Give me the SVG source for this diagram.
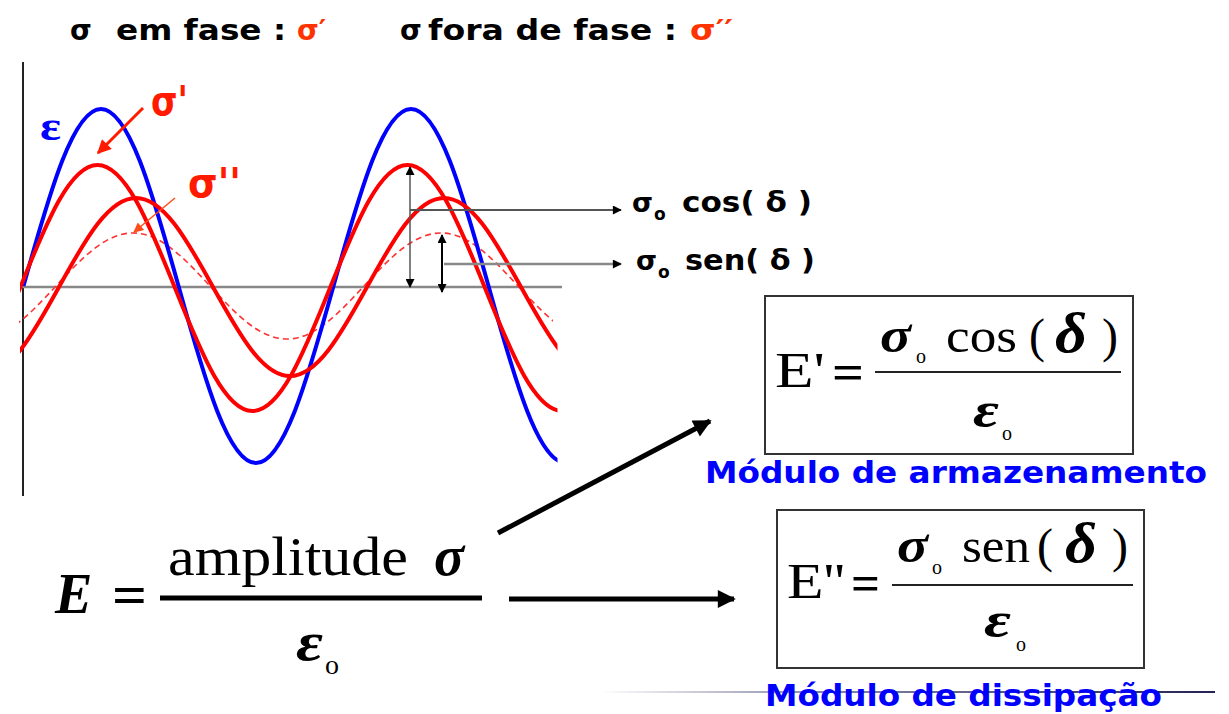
<svg xmlns="http://www.w3.org/2000/svg" width="1229" height="714" viewBox="0 0 1229 714">
<style>
.sans{font-family:"DejaVu Sans","Liberation Sans",sans-serif;font-weight:bold}
.serif{font-family:"Liberation Serif","Times New Roman",serif}
.bi{font-weight:bold;font-style:italic}
.b{font-weight:bold}
.wave{fill:none;stroke-width:4;stroke-linejoin:round}
.box{fill:#fff;stroke:#333;stroke-width:2}
</style>
<defs>
<clipPath id="clipSolid"><rect x="20" y="60" width="537.5" height="440"/></clipPath>
<clipPath id="clipDash"><rect x="19" y="60" width="534" height="440"/></clipPath>
<marker id="ahSmall" viewBox="0 0 10 10" refX="9" refY="5" markerWidth="10" markerHeight="9" markerUnits="userSpaceOnUse" orient="auto-start-reverse"><path d="M0,0 L10,5 L0,10 z" fill="#000"/></marker>
<marker id="ahBig" viewBox="0 0 10 10" refX="9" refY="5" markerWidth="24" markerHeight="18" markerUnits="userSpaceOnUse" orient="auto"><path d="M0,0 L10,5 L0,10 z" fill="#000"/></marker>
<marker id="ahRed" viewBox="0 0 10 10" refX="9" refY="5" markerWidth="18" markerHeight="14" markerUnits="userSpaceOnUse" orient="auto"><path d="M0,0 L10,5 L0,10 z" fill="#ff1a00"/></marker>
<marker id="ahRedThin" viewBox="0 0 10 10" refX="9" refY="5" markerWidth="12" markerHeight="10" markerUnits="userSpaceOnUse" orient="auto"><path d="M0,0 L10,5 L0,10 z" fill="#ff4d1a"/></marker>
<linearGradient id="fade" x1="600" y1="0" x2="1215" y2="0" gradientUnits="userSpaceOnUse"><stop offset="0" stop-color="#ffffff"/><stop offset="0.35" stop-color="#8a8aa8"/><stop offset="1" stop-color="#222255"/></linearGradient>
</defs>
<rect width="1229" height="714" fill="#fff"/>

<line id="deco" x1="600" y1="692" x2="1215" y2="692" stroke="url(#fade)" stroke-width="2"/>

<g id="header">
<text class="sans" y="40" font-size="28"><tspan x="70">σ</tspan><tspan x="116" textLength="170" lengthAdjust="spacingAndGlyphs">em fase :</tspan><tspan x="297" fill="#ff3300">σ′</tspan></text>
<text class="sans" y="40" font-size="28"><tspan x="400">σ</tspan><tspan x="428" textLength="249" lengthAdjust="spacingAndGlyphs">fora de fase :</tspan><tspan x="690" fill="#ff3300" textLength="43" lengthAdjust="spacingAndGlyphs">σ′′</tspan></text>
</g>

<g id="axes">
<line x1="23" y1="62" x2="23" y2="496" stroke="#222" stroke-width="2"/>
<line x1="20" y1="287" x2="562" y2="287" stroke="#888" stroke-width="2.5"/>
</g>

<g id="curves">
<path id="sigma2-dashed" clip-path="url(#clipDash)" fill="none" stroke="#ff3333" stroke-width="1.6" stroke-dasharray="6 4" d="M -21 339 C 6.07 339, 28.93 315.3, 56 286 C 83.07 256.7, 105.930 233, 133 233 C 160.07 233, 182.93 256.7, 210 286 C 237.07 315.3, 259.93 339, 287 339 C 314.07 339, 336.93 315.3, 364 286 C 391.07 256.7, 413.93 233, 441 233 C 468.07 233, 490.93 256.7, 518 286 C 545.07 315.3, 567.93 339, 595 339"/>
<path id="epsilon" class="wave" clip-path="url(#clipSolid)" stroke="#0000ff" d="M 23.5 286 C 50.75 188.2, 73.75 109, 101 109 C 128.25 109, 151.25 188.2, 178.5 286 C 205.75 383.8, 228.75 463, 256 463 C 283.25 463, 306.25 383.8, 333.5 286 C 360.75 188.2, 383.75 109, 411 109 C 438.25 109, 461.25 188.2, 488.5 286 C 515.75 383.8, 538.75 463, 566 463"/>
<path id="sigma-total" class="wave" clip-path="url(#clipSolid)" stroke="#ff0000" d="M -18 376 C 9.07 376, 31.93 336.2, 59 287 C 86.07 237.8, 108.93 198, 136 198 C 163.07 198, 185.93 237.8, 213 287 C 240.07 336.2, 262.93 376, 290 376 C 317.07 376, 339.93 336.2, 367 287 C 394.07 237.8, 416.93 198, 444 198 C 471.07 198, 493.93 237.8, 521 287 C 548.07 336.2, 570.93 376, 598 376"/>
<path id="sigma1" class="wave" clip-path="url(#clipSolid)" stroke="#ff0000" d="M -57.5 411 C -30.25 411, -7.25 355.9, 20 288 C 47.25 220.1, 70.25 165, 97.5 165 C 124.75 165, 147.75 220.1, 175 288 C 202.25 355.9, 225.25 411, 252.5 411 C 279.75 411, 302.75 355.9, 330 288 C 357.25 220.1, 380.25 165, 407.5 165 C 434.75 165, 457.75 220.1, 485 288 C 512.25 355.9, 535.25 411, 562.5 411"/>
</g>

<g id="plot-labels">
<text id="lbl-eps" class="serif b" x="40" y="140" font-size="42" fill="#0000ff" textLength="21" lengthAdjust="spacingAndGlyphs">ε</text>
<text id="lbl-s1" class="sans" x="151" y="115" font-size="40" fill="#ff1a00" textLength="37" lengthAdjust="spacingAndGlyphs">σ'</text>
<text id="lbl-s2" class="sans" x="188" y="197" font-size="40" fill="#ff1a00" textLength="53" lengthAdjust="spacingAndGlyphs">σ''</text>
<g id="lbl-cos">
<text class="sans" x="632" y="212" font-size="27">σ</text>
<text class="sans" x="654" y="220" font-size="17">o</text>
<text class="sans" x="682" y="212" font-size="28" textLength="130" lengthAdjust="spacingAndGlyphs">cos( δ )</text>
</g>
<g id="lbl-sen">
<text class="sans" x="636" y="270" font-size="27">σ</text>
<text class="sans" x="658" y="278" font-size="17">o</text>
<text class="sans" x="685" y="270" font-size="28" textLength="130" lengthAdjust="spacingAndGlyphs">sen( δ )</text>
</g>
</g>

<g id="connectors">
<line x1="143" y1="108" x2="98" y2="153" stroke="#ff1a00" stroke-width="3" marker-end="url(#ahRed)"/>
<line x1="175" y1="198" x2="134" y2="232" stroke="#ff4d1a" stroke-width="1.5" marker-end="url(#ahRedThin)"/>
<line x1="410" y1="167" x2="410" y2="287" stroke="#555" stroke-width="1.5" marker-start="url(#ahSmall)" marker-end="url(#ahSmall)"/>
<line x1="442" y1="235" x2="442" y2="292" stroke="#000" stroke-width="2" marker-start="url(#ahSmall)" marker-end="url(#ahSmall)"/>
<line x1="410" y1="210" x2="621" y2="210" stroke="#555" stroke-width="2" marker-end="url(#ahSmall)"/>
<line x1="444" y1="264" x2="621" y2="264" stroke="#888" stroke-width="2.5" marker-end="url(#ahSmall)"/>
<line x1="498" y1="533" x2="710" y2="421" stroke="#000" stroke-width="5" marker-end="url(#ahBig)"/>
<line x1="509" y1="599" x2="734" y2="599" stroke="#000" stroke-width="5" marker-end="url(#ahBig)"/>
</g>

<g id="formula-E">
<text class="serif bi" x="55" y="613" font-size="56">E</text>
<text class="serif b" x="112" y="614" font-size="56" textLength="35" lengthAdjust="spacingAndGlyphs">=</text>
<line x1="160" y1="598" x2="482" y2="598" stroke="#000" stroke-width="5"/>
<text class="serif" x="168" y="575" font-size="54" textLength="240" lengthAdjust="spacingAndGlyphs">amplitude</text>
<text class="serif bi" x="434" y="575" font-size="56">σ</text>
<text class="serif bi" x="296" y="660" font-size="54" textLength="27" lengthAdjust="spacingAndGlyphs">ε</text>
<text class="serif" x="325" y="674" font-size="28">o</text>
</g>

<g id="box-storage">
<rect class="box" x="765" y="296" width="368" height="158"/>
<text class="serif" x="775" y="387" font-size="50" textLength="50" lengthAdjust="spacingAndGlyphs">E'</text>
<text class="serif b" x="832" y="389" font-size="50" textLength="32" lengthAdjust="spacingAndGlyphs">=</text>
<line x1="875" y1="372" x2="1121" y2="372" stroke="#222" stroke-width="2"/>
<text class="serif bi" x="880" y="352" font-size="50" textLength="31" lengthAdjust="spacingAndGlyphs">σ</text>
<text class="serif" x="916" y="363" font-size="20">o</text>
<text class="serif" x="946" y="352" font-size="48" textLength="71" lengthAdjust="spacingAndGlyphs">cos</text>
<text class="serif" x="1029" y="352" font-size="48">(</text>
<text class="serif bi" x="1055" y="352" font-size="56" textLength="32" lengthAdjust="spacingAndGlyphs">δ</text>
<text class="serif" x="1102" y="352" font-size="48">)</text>
<text class="serif bi" x="973" y="427" font-size="50" textLength="26" lengthAdjust="spacingAndGlyphs">ε</text>
<text class="serif" x="1002" y="440" font-size="20">o</text>
</g>
<text id="lbl-storage" class="sans" x="705" y="483" font-size="30" fill="#0000ff" textLength="502" lengthAdjust="spacingAndGlyphs">Módulo de armazenamento</text>

<g id="box-loss">
<rect class="box" x="777" y="510" width="367" height="158"/>
<text class="serif" x="787" y="598" font-size="50" textLength="58" lengthAdjust="spacingAndGlyphs">E''</text>
<text class="serif b" x="851" y="600" font-size="50" textLength="29" lengthAdjust="spacingAndGlyphs">=</text>
<line x1="892" y1="585" x2="1133" y2="585" stroke="#222" stroke-width="2"/>
<text class="serif bi" x="897" y="562" font-size="50" textLength="31" lengthAdjust="spacingAndGlyphs">σ</text>
<text class="serif" x="932" y="574" font-size="20">o</text>
<text class="serif" x="962" y="562" font-size="48" textLength="68" lengthAdjust="spacingAndGlyphs">sen</text>
<text class="serif" x="1037" y="562" font-size="48">(</text>
<text class="serif bi" x="1065" y="562" font-size="56" textLength="32" lengthAdjust="spacingAndGlyphs">δ</text>
<text class="serif" x="1112" y="562" font-size="48">)</text>
<text class="serif bi" x="984" y="637" font-size="50" textLength="27" lengthAdjust="spacingAndGlyphs">ε</text>
<text class="serif" x="1016" y="651" font-size="20">o</text>
</g>
<text id="lbl-loss" class="sans" x="765" y="706" font-size="30" fill="#0000ff" textLength="397" lengthAdjust="spacingAndGlyphs">Módulo de dissipação</text>
</svg>
